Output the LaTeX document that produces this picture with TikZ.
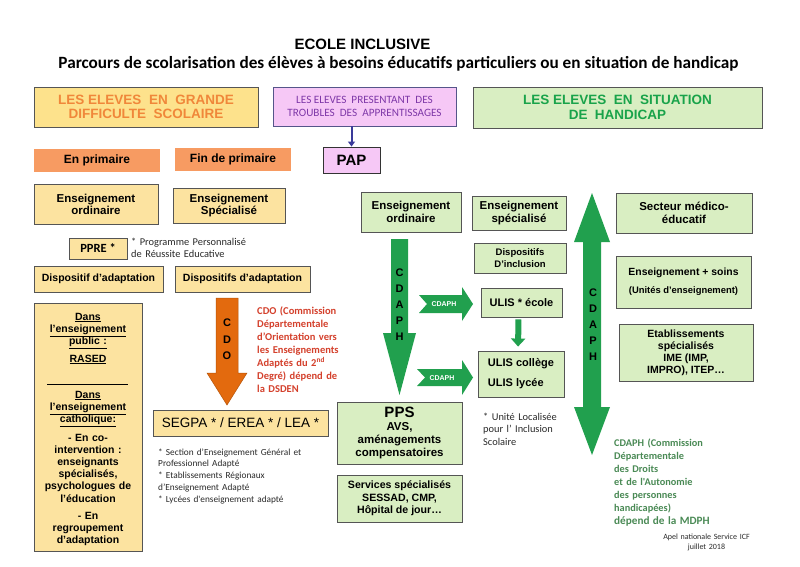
\documentclass[tikz,border=0pt]{standalone}
\usepackage{fontspec}
\setmainfont{Liberation Sans}
\newfontfamily\calib{Carlito}
\usetikzlibrary{arrows.meta}
\newcommand\fsz[2]{\fontsize{#1}{#2}\selectfont}
\definecolor{gold}{HTML}{FCE3A0}
\definecolor{goldh}{HTML}{FDE28C}
\definecolor{orangetxt}{HTML}{F0873A}
\definecolor{salmon}{HTML}{F79B62}
\definecolor{pinkfill}{HTML}{F6C8F6}
\definecolor{purpletxt}{HTML}{7E38A8}
\definecolor{purplebord}{HTML}{55558A}
\definecolor{arrowblue}{HTML}{3A3A9A}
\definecolor{lgreen}{HTML}{D9EEC2}
\definecolor{greentxt}{HTML}{19A34A}
\definecolor{garrow}{HTML}{21A04E}
\definecolor{oarrow}{HTML}{E36A0E}
\definecolor{cdotxt}{HTML}{D4402C}
\definecolor{cdaphtxt}{HTML}{4A8A55}
\definecolor{bord}{HTML}{555555}
\definecolor{note}{HTML}{2A2A2A}
\begin{document}
\begin{tikzpicture}[x=1pt,y=-1pt,
  box/.style={draw=bord, line width=0.9pt, inner sep=0pt, align=center},
  goldbox/.style={box, fill=gold},
  greenbox/.style={box, fill=lgreen},
  salmonbox/.style={fill=salmon, inner sep=0pt, font=\bfseries\fsz{12}{12}},
  notetxt/.style={inner sep=0pt, anchor=base west, align=left, text width=#1},
  lbtxt/.style={anchor=base, inner sep=0pt, text width=104pt, align=center, font=\bfseries\fsz{10.5}{12.2}},
  letters/.style={inner sep=0pt, align=center, font=\bfseries\fsz{11}{16}},
  smallarrowlbl/.style={inner sep=0pt, text=white, font=\bfseries\fsz{7}{7}}
]
\useasboundingbox[fill=white] (0,0) rectangle (800,566);

% titles
\node[font=\bfseries\fsz{15}{15}, anchor=base, inner sep=0pt] (title) at (362.5,49) {ECOLE INCLUSIVE};
\node[font=\calib\bfseries\fsz{17.2}{17}, anchor=base, inner sep=0pt] (sub) at (398.5,68.5) {Parcours de scolarisation des élèves à besoins éducatifs particuliers ou en situation de handicap};

% headers
\node[box, fill=goldh, minimum width=224, minimum height=40, text=orangetxt, font=\bfseries\fsz{13.5}{14.5}] (h1) at (146,107) {LES ELEVES\ \ EN\ \ GRANDE\\DIFFICULTE\ \ SCOLAIRE};
\node[box, draw=purplebord, fill=pinkfill, minimum width=183, minimum height=39, text=purpletxt, font=\calib\fsz{11.2}{12.7}] (h2) at (364.5,106.5) {LES ELEVES\ \ PRESENTANT\ \ DES\\TROUBLES\ \ DES\ \ APPRENTISSAGES};
\node[box, fill=lgreen, minimum width=289, minimum height=41, text=greentxt, font=\bfseries\fsz{13.5}{14.7}] (h3) at (617.5,107.5) {LES ELEVES\ \ EN\ \ SITUATION\\DE\ \ HANDICAP};

% left column
\node[salmonbox, minimum width=126, minimum height=23] (enprim) at (97,160.5) {En primaire};
\node[salmonbox, minimum width=116, minimum height=23] (finprim) at (233,159.5) {Fin de primaire};
\node[box, draw=black!80, fill=pinkfill, minimum width=57, minimum height=26, font=\bfseries\fsz{15}{15}] (pap) at (351.5,160) {PAP};
\draw[arrowblue, line width=2pt, -{Triangle[length=5pt,width=7pt]}] (pap.north |- h2.south) -- (pap.north);

\node[goldbox, minimum width=124, minimum height=40, font=\bfseries\fsz{11.5}{12}] (eoL) at (96,204) {Enseignement\\ordinaire};
\node[goldbox, minimum width=112, minimum height=35, font=\bfseries\fsz{11.5}{12}] (esL) at (229,205.5) {Enseignement\\Spécialisé};
\node[goldbox, minimum width=58, minimum height=21, font=\calib\bfseries\fsz{12.5}{12.5}] (ppre) at (98,248.5) {PPRE *};
\node[notetxt=130pt, font=\calib\fsz{10.4}{12}, text=note] (pprenote) at (131,245) {* Programme Personnalisé\\de Réussite Educative};
\node[goldbox, minimum width=129, minimum height=26, font=\bfseries\fsz{10.5}{12}] (dispL) at (98.5,279) {Dispositif d’adaptation};
\node[goldbox, minimum width=135, minimum height=26, font=\bfseries\fsz{10.5}{12}] (dispR) at (242.5,279) {Dispositifs d’adaptation};

% tall left box
\node[goldbox, minimum width=108, minimum height=248] (lbox) at (88,427) {};
\node[lbtxt] (lb1) at (88,320) {\underline{Dans}\\\underline{l’enseignement}\\\underline{public :}};
\node[lbtxt] (lb2) at (88,362) {\underline{RASED}};
\draw[line width=0.8pt] (47,384) -- (128,384);
\node[lbtxt] (lb3) at (88,398) {\underline{Dans}\\\underline{l’enseignement}\\\underline{catholique:}};
\node[lbtxt] (lb4) at (88,441) {- En co-\\intervention :\\enseignants\\spécialisés,\\psychologues de\\l’éducation};
\node[lbtxt] (lb5) at (88,519) {- En\\regroupement\\d’adaptation};

% CDO arrow
\fill[oarrow, draw=oarrow!80!black, line width=0.5pt] (216,298) -- (238,298) -- (238,373) -- (247,373) -- (227,405) -- (207,373) -- (216,373) -- cycle;
\node[letters, font=\bfseries\fsz{11}{16.5}] (cdoL) at (227,339.5) {C\\D\\O};
\node[notetxt=100pt, font=\calib\bfseries\fsz{10.5}{13.1}, text=cdotxt] (cdotext) at (257,314) {CDO (Commission\\Départementale\\d’Orientation vers\\les Enseignements\\Adaptés du 2\textsuperscript{nd}\\Degré) dépend de\\la DSDEN};

\node[goldbox, minimum width=175, minimum height=26, font=\fsz{13.5}{14}] (segpa) at (240.5,423) {SEGPA * / EREA * / LEA *};
\node[notetxt=170pt, font=\calib\fsz{9.3}{11.8}, text=note] (segpanote) at (158,455) {* Section d’Enseignement Général et\\Professionnel Adapté\\{*} Etablissements Régionaux\\d’Enseignement Adapté\\{*} Lycées d'enseignement adapté};

% middle column
\node[greenbox, minimum width=100, minimum height=40, font=\bfseries\fsz{11.5}{12.5}] (eoM) at (411,212) {Enseignement\\ordinaire};
\node[greenbox, minimum width=94, minimum height=34, font=\bfseries\fsz{11.5}{12.5}] (esM) at (519,213) {Enseignement\\spécialisé};
\node[greenbox, minimum width=92, minimum height=30, font=\bfseries\fsz{9.5}{11.5}] (diM) at (520,258) {Dispositifs\\D’inclusion};
\node[greenbox, minimum width=81, minimum height=29, font=\bfseries\fsz{11}{12}] (ulisE) at (521.5,302.5) {ULIS * école};
\node[greenbox, minimum width=86, minimum height=46, align=left, font=\bfseries\fsz{11}{12}] (ulisC) at (521,374) {ULIS collège\\[8pt]ULIS lycée};
\node[notetxt=90pt, font=\calib\fsz{10.4}{12.7}, text=note] (ulisnote) at (483,420) {* Unité Localisée\\pour l’ Inclusion\\Scolaire};
\node[greenbox, minimum width=125, minimum height=62, font=\bfseries\fsz{11.5}{13}] (pps) at (399.5,433) {{\fsz{15}{15}PPS}\\AVS,\\aménagements\\compensatoires};
\node[greenbox, minimum width=125, minimum height=47, font=\bfseries\fsz{10.6}{12.5}] (serv) at (399.5,498.5) {Services spécialisés\\SESSAD, CMP,\\Hôpital de jour…};

% middle CDAPH arrow
\fill[garrow] (391,239) -- (408,239) -- (408,333) -- (416,333) -- (399.5,395) -- (383,333) -- (391,333) -- cycle;
\node[letters] (cdaphM) at (399.5,305) {C\\D\\A\\P\\H};
\fill[garrow] (419,295) -- (462,295) -- (462,287) -- (473,304) -- (462,321) -- (462,313) -- (419,313) -- (427,304) -- cycle;
\node[smallarrowlbl] (lblA) at (444,304) {CDAPH};
\fill[garrow] (417,369) -- (462,369) -- (462,360) -- (473,377.5) -- (462,395) -- (462,386) -- (417,386) -- (425,377.5) -- cycle;
\node[smallarrowlbl] (lblB) at (442,378) {CDAPH};
\draw[garrow, line width=6pt, shorten <=2pt, shorten >=4pt, -{Triangle[length=8pt,width=14pt]}] ([xshift=-3pt]ulisE.south) -- ([xshift=-3pt]ulisC.north);

% right column
\fill[garrow] (592,193) -- (610,242) -- (601,242) -- (601,407) -- (610,407) -- (592,455) -- (574,407) -- (583,407) -- (583,242) -- (574,242) -- cycle;
\node[letters] (cdaphR) at (593,325) {C\\D\\A\\P\\H};
\node[greenbox, minimum width=136, minimum height=40, font=\bfseries\fsz{11.5}{12.5}] (sec) at (684,213) {Secteur médico-\\éducatif};
\node[greenbox, minimum width=135, minimum height=52, font=\bfseries\fsz{10.4}{12}] (ensS) at (683.5,282) {Enseignement + soins\\[6pt]{\fsz{9.4}{10}(Unités d’enseignement)}};
\node[greenbox, minimum width=134, minimum height=57, font=\bfseries\fsz{10.5}{12}] (etab) at (686,352.5) {Etablissements\\spécialisés\\IME (IMP,\\IMPRO), ITEP…};
\node[notetxt=150pt, font=\calib\bfseries\fsz{10.3}{13}, text=cdaphtxt] (cdaphtext) at (614,446) {CDAPH (Commission\\Départementale\\des Droits\\et de l'Autonomie\\des personnes\\handicapées)\\{\fsz{11.2}{13}dépend de la MDPH}};
\node[anchor=base, inner sep=0pt, align=center, text width=130pt, font=\calib\fsz{8}{10.5}, text=note] (apel) at (706.5,539) {Apel nationale Service ICF\\juillet 2018};
\end{tikzpicture}
\end{document}
